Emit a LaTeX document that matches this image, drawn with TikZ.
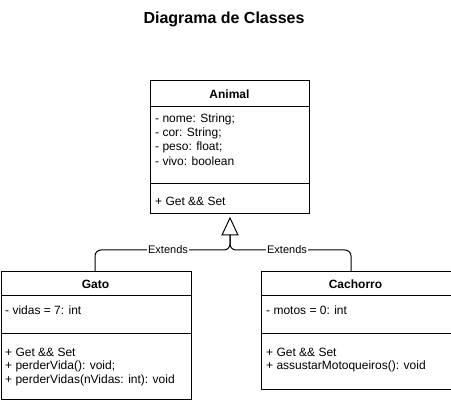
\documentclass[tikz,border=0pt]{standalone}
\usepackage{fontspec}
\setmainfont{Liberation Sans}
\begin{document}
\begin{tikzpicture}[x=1pt,y=-1pt,
  classbox/.style={draw=black, line width=1pt, fill=white, anchor=north west, inner sep=0pt},
  sepline/.style={draw=black, line width=1pt},
  conn/.style={draw=black, line width=1pt, rounded corners=6pt},
  ctitle/.style={font=\fontsize{12}{14}\selectfont\bfseries, anchor=center, inner sep=0pt},
  member/.style={font=\fontsize{12}{14}\selectfont, anchor=west, inner sep=0pt},
  extlabel/.style={font=\fontsize{11}{13}\selectfont, fill=white, inner sep=1pt, anchor=center}]
\useasboundingbox (0,0) rectangle (451,404);
\fill[white] (0,0) rectangle (451,404);
% title
\node[font=\fontsize{16}{19}\selectfont\bfseries, inner sep=0pt] (title) at (224,19) {Diagrama de Classes};
% Animal
\node[classbox, minimum width=159pt, minimum height=133pt] (animal) at (150,80) {};
\draw[sepline] (150,107) -- (309,107);
\draw[sepline] (150,184) -- (309,184);
\node[ctitle] (animalT) at (229.5,94) {Animal};
\node[member] (a1) at (155,119) {- nome: String;};
\node[member] (a2) at (155,133) {- cor: String;};
\node[member] (a3) at (155,147) {- peso: float;};
\node[member] (a4) at (155,161) {- vivo: boolean};
\node[member] (a5) at (155,201) {+ Get \&\& Set};
% Gato
\node[classbox, minimum width=190pt, minimum height=128pt] (gato) at (0.5,271) {};
\draw[sepline] (0.5,296) -- (190.5,296);
\draw[sepline] (0.5,334) -- (190.5,334);
\node[ctitle] (gatoT) at (95.5,284) {Gato};
\node[member] (g1) at (5,310) {- vidas = 7: int};
\node[member] (g2) at (5,352) {+ Get \&\& Set};
\node[member] (g3) at (5,366) {+ perderVida(): void;};
\node[member] (g4) at (5,380) {+ perderVidas(nVidas: int): void};
% Cachorro
\node[classbox, minimum width=189.5pt, minimum height=118pt] (cach) at (261,271) {};
\draw[sepline] (261,296) -- (450.5,296);
\draw[sepline] (261,334) -- (450.5,334);
\node[ctitle] (cachT) at (355.5,284) {Cachorro};
\node[member] (c1) at (266,310) {- motos = 0: int};
\node[member] (c2) at (266,352) {+ Get \&\& Set};
\node[member] (c3) at (266,366) {+ assustarMotoqueiros(): void};
% generalization
\coordinate (tip) at (230,218);
\coordinate (tb) at (230,235);
\coordinate (j) at (230,250);
\coordinate (gtop) at (95,271);
\coordinate (ctop) at (351,271);
\draw[line width=1pt, fill=white] (tip) -- (222,235) -- (238,235) -- cycle;
\draw[conn] (gtop) |- (j) -- (tb);
\draw[conn] (ctop) |- (j) -- (tb);
\node[extlabel] (e1) at (168,250) {Extends};
\node[extlabel] (e2) at (287,250) {Extends};
\end{tikzpicture}
\end{document}
